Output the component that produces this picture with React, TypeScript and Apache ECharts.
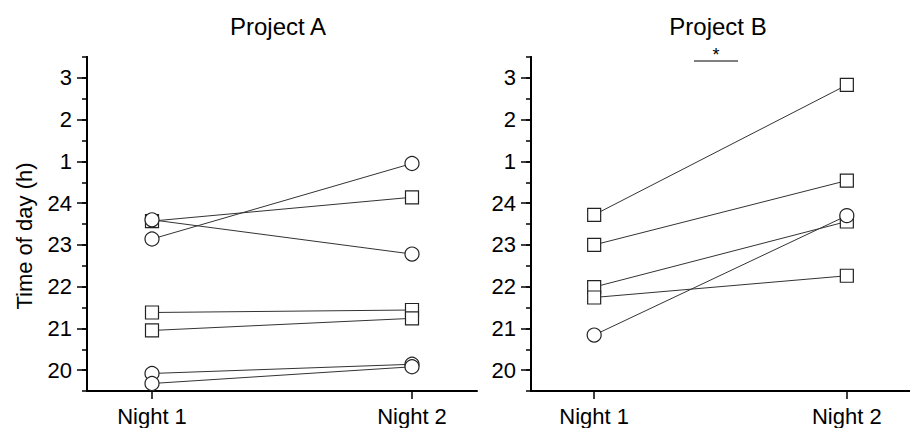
import React, { useEffect, useRef } from "react";
import * as echarts from "echarts";

const categories = ["Night 1", "Night 2"];
const yTickValues = [20, 21, 22, 23, 24, 25, 26, 27];

const projectAShapes = ["rect", "rect", "rect", "circle", "circle", "circle", "circle"];
const projectANight1 = [23.57, 21.38, 20.95, 23.6, 23.14, 19.92, 19.68];
const projectANight2 = [24.14, 21.44, 21.24, 22.78, 24.95, 20.14, 20.08];

const projectBShapes = ["rect", "rect", "rect", "rect", "circle"];
const projectBNight1 = [23.72, 23.0, 21.99, 21.74, 20.84];
const projectBNight2 = [26.83, 24.54, 23.56, 22.26, 23.7];

const FONT = "'Liberation Sans', Arial, sans-serif";

function hourLabel(v: number) {
  const r = Math.round(v);
  return r > 24 ? String(r - 24) : String(r);
}

export default function App() {
  const ref = useRef<HTMLDivElement>(null);
  useEffect(() => {
    document.body.style.margin = "0";
    const chart = echarts.init(ref.current!, null, { renderer: "svg" });
    const grids = [
      { left: 87, top: 57, width: 390, height: 334 },
      { left: 531, top: 57, width: 388, height: 334 },
    ];
    const xAxes = grids.map((_, i) => ({
      type: "value",
      gridIndex: i,
      min: 0.75,
      max: 2.25,
      splitLine: { show: false },
      axisLine: { show: true, lineStyle: { color: "#000", width: 2 } },
      axisTick: { show: true, customValues: [1, 2], length: 8, lineStyle: { color: "#000", width: 1.5 } },
      axisLabel: {
        customValues: [1, 2],
        formatter: (v: number) => categories[Math.round(v) - 1],
        fontSize: 22,
        color: "#000",
        fontFamily: FONT,
        margin: 14,
      },
    }));
    const yAxes: any[] = [];
    grids.forEach((_, i) => {
      yAxes.push({
        type: "value",
        gridIndex: i,
        position: "left",
        offset: 0,
        min: 19.5,
        max: 27.5,
        interval: 0.5,
        splitLine: { show: false },
        axisLine: { show: true, lineStyle: { color: "#000", width: 2 } },
        axisTick: { show: true, customValues: yTickValues, length: 10, lineStyle: { color: "#000", width: 1.5 } },
        axisLabel: {
          customValues: yTickValues,
          formatter: (v: number) => hourLabel(v),
          fontSize: 22,
          color: "#000",
          fontFamily: FONT,
          margin: 15,
        },
      });
      yAxes.push({
        type: "value",
        gridIndex: i,
        position: "left",
        offset: 0,
        min: 19.5,
        max: 27.5,
        interval: 0.5,
        splitLine: { show: false },
        axisLine: { show: true, lineStyle: { color: "#000", width: 2 } },
        axisTick: { show: true, length: 5, lineStyle: { color: "#000", width: 1.5 } },
        axisLabel: { show: false },
      });
    });

    const makeSeries = (shapes: string[], n1: number[], n2: number[], gi: number) =>
      shapes.map((s, k) => ({
        type: "line",
        xAxisIndex: gi,
        yAxisIndex: gi * 2,
        data: [
          [1, n1[k]],
          [2, n2[k]],
        ],
        symbol: s,
        symbolSize: s === "circle" ? 14 : 13,
        showAllSymbol: true,
        lineStyle: { color: "#333", width: 1 },
        itemStyle: { color: "#fff", borderColor: "#222", borderWidth: 1.2 },
        emphasis: { disabled: true },
        silent: true,
      }));

    chart.setOption({
      animation: false,
      grid: grids,
      xAxis: xAxes,
      yAxis: yAxes,
      series: [
        ...makeSeries(projectAShapes, projectANight1, projectANight2, 0),
        ...makeSeries(projectBShapes, projectBNight1, projectBNight2, 1),
      ],
      graphic: [
        {
          type: "text",
          x: 278,
          y: 26.5,
          style: { text: "Project A", fontSize: 24, fill: "#000", fontFamily: FONT, align: "center", verticalAlign: "middle" },
        },
        {
          type: "text",
          x: 718,
          y: 26.5,
          style: { text: "Project B", fontSize: 24, fill: "#000", fontFamily: FONT, align: "center", verticalAlign: "middle" },
        },
        {
          type: "text",
          x: 24,
          y: 236,
          rotation: Math.PI / 2,
          style: { text: "Time of day (h)", fontSize: 22, fill: "#000", fontFamily: FONT, align: "center", verticalAlign: "middle" },
        },
        {
          type: "text",
          x: 716,
          y: 55,
          style: { text: "*", fontSize: 18, fill: "#000", fontFamily: FONT, align: "center", verticalAlign: "middle" },
        },
        {
          type: "line",
          shape: { x1: 694, y1: 61, x2: 738, y2: 61 },
          style: { stroke: "#000", lineWidth: 1 },
        },
      ],
    });
    return () => chart.dispose();
  }, []);
  return <div ref={ref} style={{ width: 910, height: 428 }} />;
}
